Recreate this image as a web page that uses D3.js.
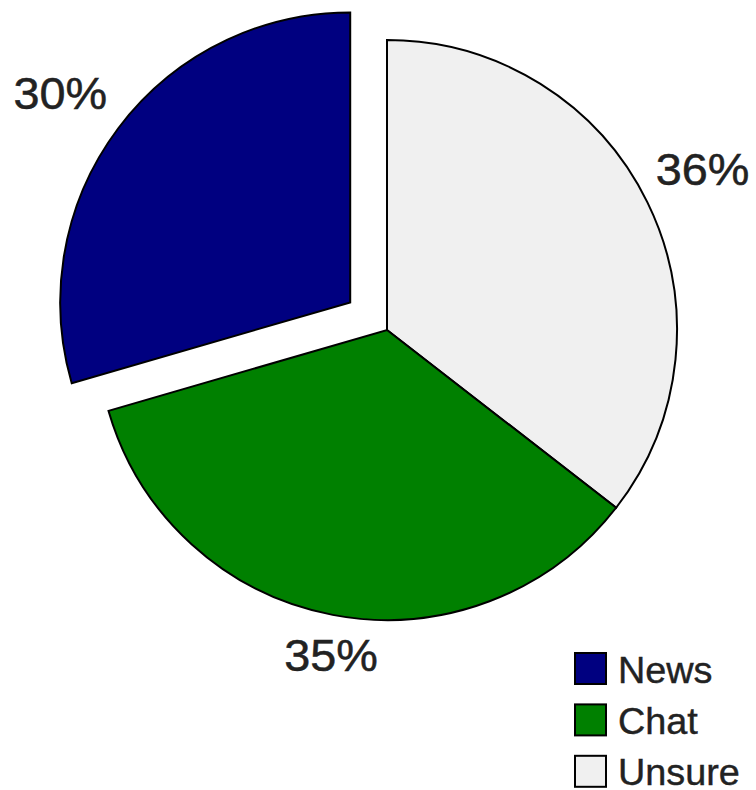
<!DOCTYPE html>
<html>
<head>
<meta charset="utf-8">
<script src="https://cdn.jsdelivr.net/npm/d3@7"></script>
<style>
  html, body { margin: 0; padding: 0; background: #ffffff; }
  svg { display: block; }
</style>
</head>
<body>
<div id="chart"></div>
<script>
// ---- data ----
const categories = ["News", "Chat", "Unsure"];
const values = [29.5, 35, 35.5];
const colors = ["#000080", "#008000", "#f0f0f0"];
// drawing order of slices, clockwise from 12 o'clock
const sliceOrder = ["Unsure", "Chat", "News"];
const explodedCategory = "News";

// ---- layout ----
const W = 756, H = 790;
const cx = 387, cy = 330, R = 290, explode = 46;
const labelFont = 45, legendFont = 36;
const textColor = "#222222";
const fontFamily = "'Liberation Sans', Arial, Helvetica, sans-serif";

const svg = d3.select("#chart").append("svg")
  .attr("width", W).attr("height", H);

const color = d3.scaleOrdinal().domain(categories).range(colors);
const valueOf = d3.scaleOrdinal().domain(categories).range(values);

const pie = d3.pie().sort(null).value(c => valueOf(c));
const arcs = pie(sliceOrder);
const arc = d3.arc().innerRadius(0).outerRadius(R);

const g = svg.append("g").attr("transform", `translate(${cx},${cy})`);

arcs.forEach(a => {
  const mid = (a.startAngle + a.endAngle) / 2;
  const off = a.data === explodedCategory ? explode : 0;
  a.ox = Math.sin(mid) * off;
  a.oy = -Math.cos(mid) * off;
  a.mid = mid;
  a.exploded = off > 0;
});

g.selectAll("path.slice").data(arcs).join("path")
  .attr("class", "slice")
  .attr("d", arc)
  .attr("transform", d => `translate(${d.ox},${d.oy})`)
  .attr("fill", d => color(d.data))
  .attr("stroke", "#000")
  .attr("stroke-width", 2)
  .attr("stroke-linejoin", "miter");

// percentage labels, placed outside with text box clearing the rim
const hx = 1.04; // horizontal stretch of glyphs
const labelAngleShift = -Math.PI / 180;
const labels = g.selectAll("text.pct").data(arcs).join("text")
  .attr("class", "pct")
  .attr("font-family", fontFamily)
  .attr("font-size", labelFont)
  .attr("fill", textColor)
  .attr("stroke", textColor)
  .attr("stroke-width", 0.5)
  .attr("text-anchor", "middle")
  .text(d => Math.round(valueOf(d.data)) + "%");

labels.each(function(d) {
  const w = this.getComputedTextLength() * hx / 2;
  const h = 16;
  const a = d.mid + labelAngleShift;
  const s = Math.sin(a), c = -Math.cos(a);
  const gap = 15.5 + (d.exploded ? 5 : 0);
  const dist = R + gap + Math.abs(s) * w + Math.abs(c) * h;
  const x = d.ox + s * dist;
  const y = d.oy + c * dist + labelFont * 0.36;
  d3.select(this).attr("transform", `translate(${x},${y}) scale(${hx},1)`);
});

// ---- legend ----
const legendX = 575, legendY = 653, box = 31, rowH = 51.4;
const legend = svg.append("g").attr("transform", `translate(${legendX},${legendY})`);
const rows = legend.selectAll("g").data(categories).join("g")
  .attr("transform", (d, i) => `translate(0,${i * rowH})`);
rows.append("rect")
  .attr("x", 0).attr("y", 0).attr("width", box).attr("height", box)
  .attr("fill", d => color(d))
  .attr("stroke", "#000").attr("stroke-width", 2);
rows.append("text")
  .attr("transform", `translate(43,${box - 1.5}) scale(1.05,1)`)
  .attr("font-family", fontFamily)
  .attr("font-size", legendFont)
  .attr("fill", textColor)
  .attr("stroke", textColor)
  .attr("stroke-width", 0.4)
  .text(d => d);
</script>
</body>
</html>
